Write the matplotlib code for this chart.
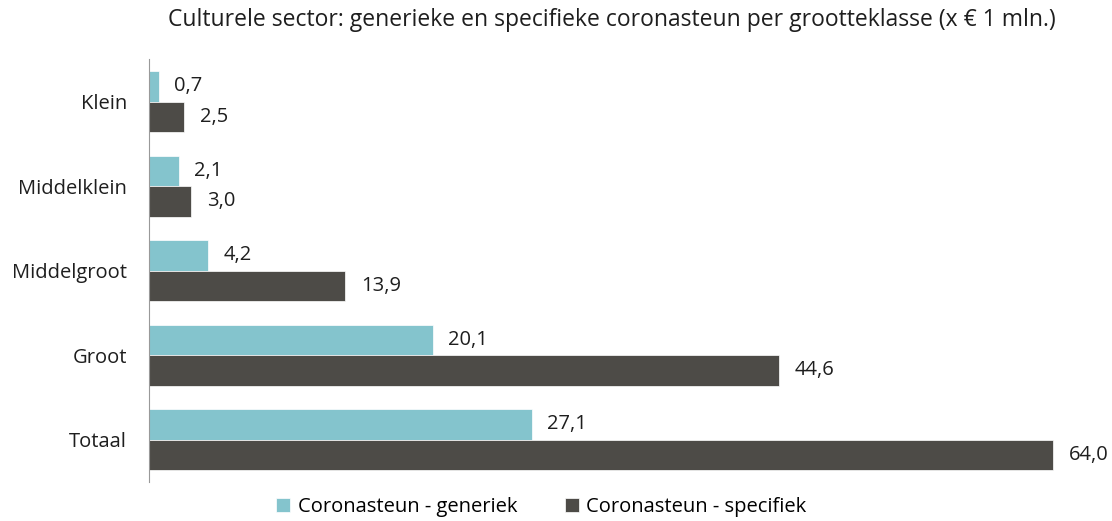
import matplotlib.pyplot as plt
import numpy as np

plt.rcParams['font.family'] = ['Open Sans', 'DejaVu Sans']

categories = ['Klein', 'Middelklein', 'Middelgroot', 'Groot', 'Totaal']
generiek = [0.7, 2.1, 4.2, 20.1, 27.1]
specifiek = [2.5, 3.0, 13.9, 44.6, 64.0]

teal = '#84c4cd'
dark = '#4d4b47'
txt = '#1e1e1e'
fs = 14.5

fig = plt.figure(figsize=(11.12, 5.21), dpi=100)
ax = fig.add_axes([0.134, 0.075, 0.846, 0.811])

y = np.arange(len(categories))
h = 0.36
ax.barh(y - h / 2, generiek, height=h, color=teal, edgecolor='white', linewidth=0.5,
        label='Coronasteun - generiek')
ax.barh(y + h / 2, specifiek, height=h, color=dark, edgecolor='white', linewidth=0.5,
        label='Coronasteun - specifiek')

for i in range(len(categories)):
    ax.text(generiek[i] + 1.1, y[i] - h / 2, f'{generiek[i]:.1f}'.replace('.', ','),
            va='center', ha='left', fontsize=fs, color=txt)
    ax.text(specifiek[i] + 1.1, y[i] + h / 2, f'{specifiek[i]:.1f}'.replace('.', ','),
            va='center', ha='left', fontsize=fs, color=txt)

ax.set_yticks(y)
ax.set_yticklabels(categories, fontsize=fs, color=txt)
ax.set_ylim(len(categories) - 0.5, -0.5)
ax.set_xlim(0, 66.6)
ax.set_xticks([])
ax.tick_params(axis='y', length=0, pad=16)
for s in ['top', 'right', 'bottom']:
    ax.spines[s].set_visible(False)
ax.spines['left'].set_color('#999999')

fig.suptitle('Culturele sector: generieke en specifieke coronasteun per grootteklasse (x € 1 mln.)',
             x=0.55, y=0.985, fontsize=16.5, color=txt)
fig.legend(loc='lower center', bbox_to_anchor=(0.487, -0.027), ncol=2, frameon=False,
           fontsize=fs, handlelength=0.7, handleheight=0.7, columnspacing=2.4,
           handletextpad=0.35)

fig.savefig('out.png', dpi=100)
